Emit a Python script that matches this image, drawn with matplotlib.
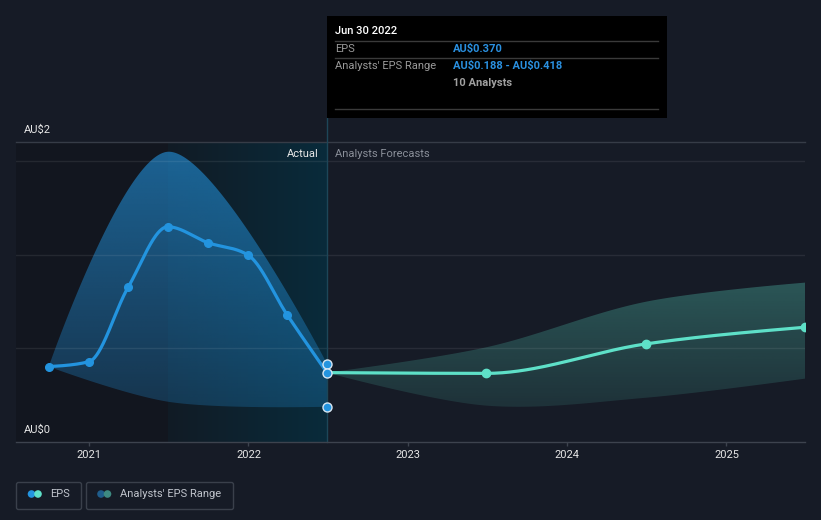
import numpy as np
import pandas as pd
import matplotlib
matplotlib.use("Agg")
import matplotlib.pyplot as plt
import matplotlib.dates as mdates
from matplotlib.patches import Polygon, Rectangle, FancyBboxPatch, Circle
from matplotlib.lines import Line2D
from matplotlib.transforms import IdentityTransform
from matplotlib.colors import to_rgb

plt.rcParams['font.family'] = ['Roboto', 'DejaVu Sans']

# ---------------- data ----------------
actual_dates = ['2020-09-30', '2020-12-31', '2021-03-31', '2021-06-30',
                '2021-09-30', '2021-12-31', '2022-03-31', '2022-06-30']
actual_eps = [0.402, 0.428, 0.825, 1.148, 1.063, 0.997, 0.677, 0.370]

past_range_dates = ['2020-09-30', '2021-06-30', '2022-06-30']
past_range_high = [0.402, 1.548, 0.418]
past_range_low = [0.402, 0.215, 0.188]

forecast_dates = ['2022-06-30', '2023-06-30', '2024-06-30', '2025-06-30']
forecast_eps = [0.370, 0.366, 0.523, 0.612]
forecast_high = [0.370, 0.505, 0.748, 0.850]
forecast_low = [0.370, 0.194, 0.236, 0.338]

year_ticks = [2021, 2022, 2023, 2024, 2025]
y_labels = ['AU$0', 'AU$2']
grid_values = [0.5, 1.0, 1.5]
y_max = 1.6

tooltip_date = 'Jun 30 2022'
tooltip_analysts = 10
x_start = '2020-07-17'
shade_start = '2021-06-30'
now_date = '2022-06-30'

# ---------------- figure ----------------
W, H = 821, 520
BG = '#161b26'
fig = plt.figure(figsize=(W / 100, H / 100), dpi=100)
fig.patch.set_facecolor(BG)
L, R, T, B = 16, 805, 142, 442
ax = fig.add_axes([L / W, 1 - B / H, (R - L) / W, (B - T) / H])
ax.set_facecolor(BG)

dn = lambda d: mdates.date2num(pd.Timestamp(d))
ax_x = np.array([dn(d) for d in actual_dates])
pr_x = np.array([dn(d) for d in past_range_dates])
fc_x = np.array([dn(d) for d in forecast_dates])
x0, x1 = dn(x_start), fc_x[-1]
xs_shade, x_now = dn(shade_start), dn(now_date)

PXX = (R - L) / (x1 - x0)
PXY = (B - T) / y_max

# ---------------- curve helpers ----------------
def monotone(xs, ys, n=60):
    xs = np.asarray(xs, float); ys = np.asarray(ys, float)
    h = np.diff(xs); s = np.diff(ys) / h
    k = len(xs)
    m = np.zeros(k)
    for i in range(1, k - 1):
        s0, s1 = s[i - 1], s[i]
        p = (s0 * h[i] + s1 * h[i - 1]) / (h[i - 1] + h[i])
        m[i] = (np.sign(s0) + np.sign(s1)) * min(abs(s0), abs(s1), 0.5 * abs(p))
    m[0] = (3 * s[0] - m[1]) / 2
    m[-1] = (3 * s[-1] - m[-2]) / 2
    X, Y = [], []
    for i in range(k - 1):
        t = np.linspace(0, 1, n, endpoint=(i == k - 2))
        h00 = 2 * t**3 - 3 * t**2 + 1
        h10 = t**3 - 2 * t**2 + t
        h01 = -2 * t**3 + 3 * t**2
        h11 = t**3 - t**2
        X.append(xs[i] + t * h[i])
        Y.append(h00 * ys[i] + h10 * h[i] * m[i] + h01 * ys[i + 1] + h11 * h[i] * m[i + 1])
    return np.concatenate(X), np.concatenate(Y)


def catmull(xs, ys, n=80, alpha=0.5):
    # centripetal Catmull-Rom evaluated in pixel space (like d3.curveCatmullRom)
    P = np.column_stack([(np.asarray(xs, float) - x0) * PXX, np.asarray(ys, float) * PXY])
    k = len(P)
    out = []
    for i in range(k - 1):
        p0 = P[i - 1] if i > 0 else P[i]
        p1, p2 = P[i], P[i + 1]
        p3 = P[i + 2] if i + 2 < k else P[i + 1]
        l01 = np.linalg.norm(p1 - p0); l12 = np.linalg.norm(p2 - p1); l23 = np.linalg.norm(p3 - p2)
        l01a, l12a, l23a = l01**alpha, l12**alpha, l23**alpha
        l01_2a, l12_2a, l23_2a = l01**(2 * alpha), l12**(2 * alpha), l23**(2 * alpha)
        c1 = p1.copy(); c2 = p2.copy()
        if l01a > 1e-9:
            a = 2 * l01_2a + 3 * l01a * l12a + l12_2a
            nn = 3 * l01a * (l01a + l12a)
            c1 = (p1 * a - p0 * l12_2a + p2 * l01_2a) / nn
        if l23a > 1e-9:
            b = 2 * l23_2a + 3 * l23a * l12a + l12_2a
            mm = 3 * l23a * (l23a + l12a)
            c2 = (p2 * b + p1 * l23_2a - p3 * l12_2a) / mm
        t = np.linspace(0, 1, n, endpoint=(i == k - 2))[:, None]
        seg = (1 - t)**3 * p1 + 3 * (1 - t)**2 * t * c1 + 3 * (1 - t) * t**2 * c2 + t**3 * p2
        out.append(seg)
    out = np.vstack(out)
    return out[:, 0] / PXX + x0, out[:, 1] / PXY

# ---------------- background regions ----------------
ax.axvspan(x0, xs_shade, color='#12161f', lw=0, zorder=0.5)
c_l, c_r = np.array(to_rgb('#111b25')), np.array(to_rgb('#092b3b'))
grad = np.linspace(0, 1, 512)[None, :, None]
img = c_l[None, None, :] * (1 - grad) + c_r[None, None, :] * grad
ax.imshow(img, extent=[xs_shade, x_now, 0, y_max], origin='lower', aspect='auto',
          zorder=0.6, interpolation='bilinear')


def grad_band(xs, lo, hi, color, a0, a1, z):
    xx, yh = catmull(xs, hi)
    xl, yl = catmull(xs, lo)
    verts = np.vstack([np.column_stack([xx, yh]), np.column_stack([xl[::-1], yl[::-1]])])
    poly = Polygon(verts, closed=True, facecolor='none', edgecolor='none')
    ax.add_patch(poly)
    rgb = to_rgb(color)
    n = 256
    im_ = np.zeros((n, 1, 4))
    im_[..., :3] = rgb
    im_[:, 0, 3] = np.linspace(a0, a1, n)
    im = ax.imshow(im_, extent=[xs[0], xs[-1], 0, y_max], origin='lower', aspect='auto',
                   zorder=z, interpolation='bilinear')
    im.set_clip_path(poly)

grad_band(pr_x, past_range_low, past_range_high, '#2394df', 0.20, 0.62, 2)
grad_band(fc_x, forecast_low, forecast_high, '#5ce0c8', 0.065, 0.51, 2)

# grid
for v in grid_values:
    ax.axhline(v, color='white', alpha=0.08, lw=1, zorder=3)
ax.axhline(y_max, color='#363c47', lw=1, zorder=3, clip_on=False)

# now line
ax.axvline(x_now, ymin=0, ymax=1 + (T - 118) / (B - T), color='#1d4658', lw=1,
           clip_on=False, zorder=4)

# lines
xx, yy = monotone(ax_x, actual_eps)
ax.plot(xx, yy, color='#2394df', lw=2.3, zorder=5, solid_capstyle='round')
ax.plot(ax_x[:-1], actual_eps[:-1], 'o', ms=5.5, color='#2394df', zorder=6)
xx, yy = monotone(fc_x, forecast_eps)
ax.plot(xx, yy, color='#5ee0c8', lw=2.3, zorder=5, solid_capstyle='round')
ax.plot(fc_x[1:], forecast_eps[1:], 'o', ms=6, color='#5ee0c8', zorder=6)
ax.plot([x_now] * 3, [past_range_high[-1], actual_eps[-1], past_range_low[-1]], 'o', ms=6.5,
        mfc='#2394df', mec='#d6e6f2', mew=1.0, zorder=7, clip_on=False)

ax.set_xlim(x0, x1)
ax.set_ylim(0, y_max)
for s in ['top', 'right', 'left']:
    ax.spines[s].set_visible(False)
ax.spines['bottom'].set_color('#3d434e')
ax.spines['bottom'].set_linewidth(1)
ax.spines['bottom'].set_zorder(8)
ax.set_yticks([])
ax.set_xticks([dn(f'{y}-01-01') for y in year_ticks])
ax.tick_params(axis='x', length=3, width=1, color='#3d434e', labelbottom=False)
for y in year_ticks:
    ax.text(dn(f'{y}-01-01'), -(455 - B) / (B - T), str(y), transform=ax.get_xaxis_transform(),
            ha='center', va='center', color='#e6e6e6', fontsize=8)

# ---------------- pixel-space overlay ----------------
ID = IdentityTransform()
def ftext(x, y, s, **kw):
    fig.text(x, H - y, s, transform=ID, parse_math=False, **kw)

ftext(24, 130, y_labels[1], ha='left', va='center', color='#e6e6e6', fontsize=8)
ftext(24, 430, y_labels[0], ha='left', va='center', color='#e6e6e6', fontsize=8)
ftext(319, 154, 'Actual', ha='right', va='center', color='#e8e8e8', fontsize=8)
ftext(335, 154, 'Analysts Forecasts', ha='left', va='center', color='#8a8f99', fontsize=8)

# tooltip
fig.add_artist(Rectangle((326.5, H - 118), 340, 102, transform=ID, facecolor='#000000',
                         edgecolor='none', zorder=10))
for yy_ in [41, 58.3, 109]:
    fig.add_artist(Line2D([335, 658], [H - yy_, H - yy_], transform=ID, color='#3a3a3a',
                          lw=1, zorder=11))
ftext(335, 31.5, tooltip_date, ha='left', va='center', color='#ffffff', fontsize=8,
      fontweight='medium', zorder=12)
ftext(335, 49.3, 'EPS', ha='left', va='center', color='#9a9a9a', fontsize=8, zorder=12)
ftext(453, 49.3, f'AU${actual_eps[-1]:.3f}', ha='left', va='center', color='#2a90e0',
      fontsize=8, fontweight='bold', zorder=12)
ftext(335, 66, "Analysts' EPS Range", ha='left', va='center', color='#9a9a9a', fontsize=8,
      zorder=12)
ftext(453, 66, f'AU${past_range_low[-1]:.3f} - AU${past_range_high[-1]:.3f}', ha='left',
      va='center', color='#2a90e0', fontsize=8, fontweight='bold', zorder=12)
ftext(453, 82.7, f'{tooltip_analysts} Analysts', ha='left', va='center', color='#a0a0a0',
      fontsize=8, fontweight='bold', zorder=12)

# legend
for (bx0, bx1) in [(16.5, 81.5), (86.5, 233.5)]:
    fig.add_artist(FancyBboxPatch((bx0, H - 509.5), bx1 - bx0, 27, transform=ID,
                                  boxstyle='round,pad=0,rounding_size=2', facecolor='none',
                                  edgecolor='#3a404b', lw=1, zorder=10))
for cx, col in [(31.5, '#2394df'), (38, '#5ee0c8'), (101, '#1f5d8c'), (107.5, '#3e8a82')]:
    fig.add_artist(Circle((cx, H - 494), 3.8, transform=ID, facecolor=col, edgecolor='none',
                          zorder=11))
ftext(50, 494, 'EPS', ha='left', va='center', color='#c0c4cc', fontsize=8, zorder=12)
ftext(120, 494, "Analysts' EPS Range", ha='left', va='center', color='#c0c4cc', fontsize=8,
      zorder=12)

fig.savefig('out.png', dpi=100, facecolor=BG)
